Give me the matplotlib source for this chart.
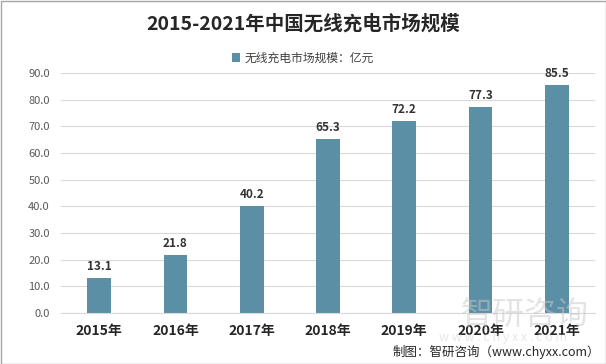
import matplotlib.pyplot as plt
from matplotlib.patches import Rectangle

plt.rcParams['font.family'] = ['Noto Sans CJK SC', 'DejaVu Sans']

years = ["2015年", "2016年", "2017年", "2018年", "2019年", "2020年", "2021年"]
values = [13.1, 21.8, 40.2, 65.3, 72.2, 77.3, 85.5]
yticks = [0, 10, 20, 30, 40, 50, 60, 70, 80, 90]

bar_color = "#5b8fa6"

fig = plt.figure(figsize=(6.06, 3.64), dpi=100)
fig.patches.append(Rectangle((0.5 / 606, 0.5 / 364), 605 / 606, 363 / 364,
                             transform=fig.transFigure, fill=False,
                             edgecolor="#a6a6a6", linewidth=1))

ax = fig.add_axes([0.1007, 0.140, 0.881, 0.659])

x = range(len(years))
ax.bar(x, values, width=0.31, color=bar_color, zorder=2,
       label="无线充电市场规模：亿元")

for xi, v in zip(x, values):
    ax.text(xi, v + 1.8, f"{v:.1f}", ha="center", va="bottom",
            fontsize=8.5, fontweight="bold", color="#333333")

ax.set_xlim(-0.5, len(years) - 0.5)
ax.set_ylim(0, 90)
ax.set_yticks(yticks)
ax.set_yticklabels([f"{t:.1f}" for t in yticks], fontsize=8, color="#595959")
ax.set_xticks(list(x))
ax.set_xticklabels(years, fontsize=10, fontweight="bold", color="#262626")
ax.tick_params(axis="both", length=0)
ax.tick_params(axis="x", pad=8)
ax.tick_params(axis="y", pad=8)
ax.grid(axis="y", color="#d9d9d9", linewidth=0.8, zorder=0)
for s in ["top", "right", "left"]:
    ax.spines[s].set_visible(False)
ax.spines["bottom"].set_color("#d9d9d9")

fig.text(0.5, 0.935, "2015-2021年中国无线充电市场规模", ha="center", va="center",
         fontsize=14, fontweight="bold", color="#262626")

leg = fig.legend(loc="center", bbox_to_anchor=(0.5, 0.84), frameon=False,
                 fontsize=8.5, handlelength=0.7, handleheight=0.7,
                 handletextpad=0.4)
for t in leg.get_texts():
    t.set_color("#404040")

# watermark
fig.text(0.865, 0.135, "智研咨询", ha="center", va="center", fontsize=23,
         color="#c8c8c8", alpha=0.5, zorder=0)
fig.text(0.83, 0.074, "w w w . c h y x x . c o m", ha="center", va="center",
         fontsize=9, color="#d0d0d0", alpha=0.5, zorder=0)

fig.text(0.99, 0.033, "制图：智研咨询（www.chyxx.com）", ha="right", va="center",
         fontsize=9, color="#262626")

fig.savefig("out.png", dpi=100)
